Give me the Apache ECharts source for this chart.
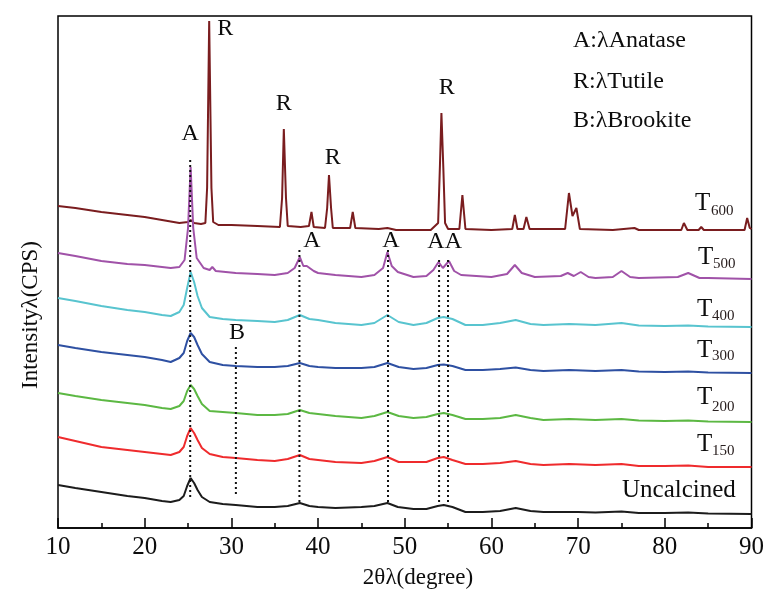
<!DOCTYPE html>
<html><head><meta charset="utf-8">
<script src="https://cdn.jsdelivr.net/npm/echarts@6/dist/echarts.min.js"></script>
<style>html,body{margin:0;padding:0;background:#fff}#c{width:767px;height:595px}</style>
</head><body><div id="c"></div>
<script>
const FONT = 'Liberation Serif';
const xTicks = [10, 20, 30, 40, 50, 60, 70, 80, 90];

const uncalcined = [[10,43],[12,40],[15,36],[18,32],[20,30],[22,27],[23,26],[24,28],[24.5,32],[24.9,42],[25.3,50],[25.7,45],[26.1,38],[26.6,31],[27.5,26],[29,24],[30.5,23],[33,21],[35,21],[36.5,22],[37.9,25],[39,22],[40,21],[42,20],[45,21],[46.5,22],[48,25],[49.2,21],[51,19],[52.5,19],[53.8,22],[54.5,23],[55.5,21],[57,16],[59,16],[61,17],[62.8,20],[64.5,17],[66,16],[68.8,16],[70,16],[72,15.5],[75,16.5],[77,15],[80,15],[82.7,15.5],[85,14.5],[90,14]];
const t150 = [[10,91],[12,87],[15,81],[18,78],[20,76],[22,74],[23,73],[24,76],[24.5,81],[24.9,92],[25.3,100],[25.7,95],[26.1,88],[26.6,80],[27.5,74],[29,71],[30.5,70],[33,68],[35,67],[36.5,69],[37.9,73],[39,69],[40,68],[42,66],[45,65],[46.5,67],[48,71],[49.3,66],[51,66],[52.5,66],[53.8,70],[54.5,71],[55.5,68],[57,64],[59,64],[61,65],[62.8,67],[64.5,64],[66,63],[69,64],[72,63],[75,64],[77,62],[80,62],[82.7,62.5],[85,61],[90,61]];
const t200 = [[10,135],[12,132],[15,128],[18,125],[20,123],[22,120],[23,119],[24,122],[24.5,127],[24.9,137],[25.3,143],[25.7,139],[26.1,132],[26.6,124],[27.5,117],[29,116],[30.5,115],[33,113],[35,113],[36.5,114],[37.9,118],[39,115],[40,114],[42,112],[45,110],[46.5,112],[48,116],[49.3,112],[51,110],[52.5,111],[53.8,114],[54.5,115],[55.5,113],[57,109],[59,109],[61,110],[62.8,113],[64.5,110],[66,108],[69,109],[72,108],[75,109],[77,107.5],[80,107],[82.7,107.5],[85,106.5],[90,106]];
const t300 = [[10,183],[12,180],[15,176],[18,173],[20,171],[22,168],[23,166],[24,170],[24.5,175],[24.9,187],[25.3,195],[25.7,191],[26.1,183],[26.6,174],[27.5,166],[29,163],[30.5,162],[33,161],[35,161],[36.5,162],[37.9,165],[39,162],[40,161],[42,160],[45,160],[46.5,161],[48,165],[49.3,161],[51,159],[52.5,160],[53.8,163],[54.5,163.5],[55.5,162],[57,158],[59,158],[61,159],[62.8,160.5],[64.5,158],[66,157],[69,158],[72,157],[75,158],[77,156.5],[80,156],[82.7,156.5],[85,155.5],[90,155]];
const t400 = [[10,230],[12,227],[15,222],[18,218],[20,216],[22,213],[23,212],[24,216],[24.5,223],[24.9,240],[25.3,256],[25.7,246],[26.1,232],[26.6,220],[27.5,211],[29,209],[30.5,208],[33,207],[35,206],[36.5,208],[37.9,213],[39,209],[40,208],[42,205],[45,203],[46.5,205],[48,213],[49.3,206],[51,203],[52.5,205],[53.8,210],[54.5,211],[55.5,209],[57,203],[59,203],[61,205],[62.8,208],[64.5,204],[66,203],[69,204],[72,203],[75,205],[77,202.5],[80,202],[82.7,202.5],[85,201.5],[90,201]];
const t500 = [[10,275],[12,272],[15,267],[18,264],[20,263],[22,261],[23,260],[24,261],[24.6,268],[25.0,300],[25.3,361],[25.6,300],[26.0,270],[26.8,260],[27.5,258],[27.8,261],[28.2,257],[30.5,255],[33,254],[35,253],[36.5,255],[37.3,260],[37.9,271],[38.3,262],[38.7,262],[39.5,257],[40,255],[42,253],[45,251],[46.5,253],[47.5,260],[48,276],[48.5,262],[49.2,256],[51,251],[52.5,252],[53.3,258],[53.9,266],[54.4,260],[55.1,267],[55.7,257],[56.5,253],[60,251],[61.8,254],[62.7,263],[63.5,255],[65,251],[68,252],[68.8,255],[69.5,252],[70.3,256],[71.2,251],[72,250],[74,251],[75,257],[76,251],[77,250],[81.5,251],[82.7,255],[84,250],[85,250],[90,249]];
const t600 = [[10,322],[12,320],[15,316],[18,313],[20,311],[22,308],[24,305],[25.0,306],[25.3,308],[25.7,305],[26.5,304],[27.0,305],[27.2,340],[27.44,507],[27.7,340],[27.9,306],[28.5,303],[30,303],[33,302],[35.6,301],[35.85,330],[36.05,399],[36.3,330],[36.5,302],[38,301],[38.95,302],[39.24,316],[39.5,301],[40.8,300],[41.05,320],[41.26,353],[41.5,320],[41.7,300],[43.7,300],[44.0,316],[44.3,300],[47,299],[48.0,300],[49,298],[53,298],[53.85,305],[54.05,360],[54.23,415],[54.45,360],[54.65,305],[55,299],[56.3,299],[56.65,333],[57.0,299],[60,298],[62.4,299],[62.7,313],[63.0,299],[63.7,299],[64.03,311],[64.4,299],[68.5,299],[68.94,335],[69.35,312],[69.8,320],[70.2,299],[74,298],[76.5,300],[77,298],[81.9,298],[82.2,305],[82.6,298],[83.9,298],[84.2,301],[84.5,298],[89.2,298],[89.5,310],[89.8,300],[90,299]];

const seriesNames = ['Uncalcined','T150','T200','T300','T400','T600','T500'];
const seriesData = [uncalcined, t150, t200, t300, t400, t600, t500];
const seriesColors = ['#1c1c1c','#ef2b2d','#5cb843','#2e50a2','#58c4cf','#7a1d1f','#a052a8'];

// dotted guides: [angle, top, bottom]
const guides = [[25.25,368,31],[30.52,181,31],[37.85,278,26],[48.07,278,25],[53.96,268,23],[54.99,268,23]];
// peak labels: [angle, y, text]
const peakLabels = [[25.25,394,'A'],[29.3,499,'R'],[36.05,424,'R'],[41.7,370,'R'],[54.85,440,'R'],[39.3,287,'A'],[48.4,287,'A'],[54.6,286,'AA'],[30.65,195,'B']];
const legendTexts = ['A:\u03bbAnatase','R:\u03bbTutile','B:\u03bbBrookite'];
const sampleSubs = ['600','500','400','300','200','150'];

const chart = echarts.init(document.getElementById('c'), null, {renderer:'canvas'});

const series = [];
seriesData.forEach((d, i) => {
  series.push({type:'line', name:seriesNames[i], data:d, showSymbol:false, silent:true,
    lineStyle:{color:seriesColors[i], width:2}, z:2+i});
});
guides.forEach(g => {
  series.push({type:'line', data:[[g[0],g[1]],[g[0],g[2]]], showSymbol:false, silent:true,
    lineStyle:{color:'#111', width:2, type:[2,3]}, z:20});
});
series.push({type:'scatter', data:peakLabels, symbolSize:0, silent:true, z:30, itemStyle:{opacity:1},
  label:{show:true, position:'inside', formatter:p=>p.value[2], color:'#0d0d0d', textBorderWidth:0, fontFamily:FONT, fontSize:24}});

const tPos = [[695,203,711,211],[698,257,713,264],[697,309,712,316],[697,350,712,356],[697,397,712,407],[697,444,712,451]];
const graphic = [];
legendTexts.forEach((t, i) => {
  graphic.push({type:'text', left:573, top:[29,70,109][i], style:{text:t, font:'24px "Liberation Serif"', fill:'#0d0d0d'}});
});
sampleSubs.forEach((s, i) => {
  const p = tPos[i];
  graphic.push({type:'text', x:p[0], y:p[1], style:{text:'T', font:'25px "Liberation Serif"', fill:'#0d0d0d', verticalAlign:'middle', align:'left'}});
  graphic.push({type:'text', x:p[2], y:p[3], style:{text:s, font:'15px "Liberation Serif"', fill:'#2a2020', verticalAlign:'middle', align:'left'}});
});
graphic.push({type:'text', x:622, y:490, style:{text:'Uncalcined', font:'25px "Liberation Serif"', fill:'#0d0d0d', verticalAlign:'middle', align:'left'}});
graphic.push({type:'text', x:418, y:578, style:{text:'2\u03b8\u03bb(degree)', font:'23px "Liberation Serif"', fill:'#0d0d0d', verticalAlign:'middle', align:'center'}});
graphic.push({type:'text', x:31, y:315, rotation:Math.PI/2, style:{text:'Intensity\u03bb(CPS)', font:'23px "Liberation Serif"', fill:'#0d0d0d', verticalAlign:'middle', align:'center'}});

chart.setOption({
  animation:false,
  grid:{left:58, top:16, width:694, height:512, show:true, borderColor:'#000', borderWidth:1.5, backgroundColor:'transparent'},
  xAxis:{type:'value', min:xTicks[0], max:xTicks[xTicks.length-1], interval:10,
    axisLine:{show:true, lineStyle:{color:'#000', width:1.5}},
    axisTick:{show:true, inside:true, length:10, lineStyle:{color:'#000', width:1.5}},
    minorTick:{show:true, splitNumber:2, length:5, lineStyle:{color:'#000', width:1.5}},
    splitLine:{show:false},
    axisLabel:{color:'#0d0d0d', fontFamily:FONT, fontSize:25, margin:7}},
  yAxis:{type:'value', min:0, max:512, show:false},
  series, graphic
});
</script></body></html>
